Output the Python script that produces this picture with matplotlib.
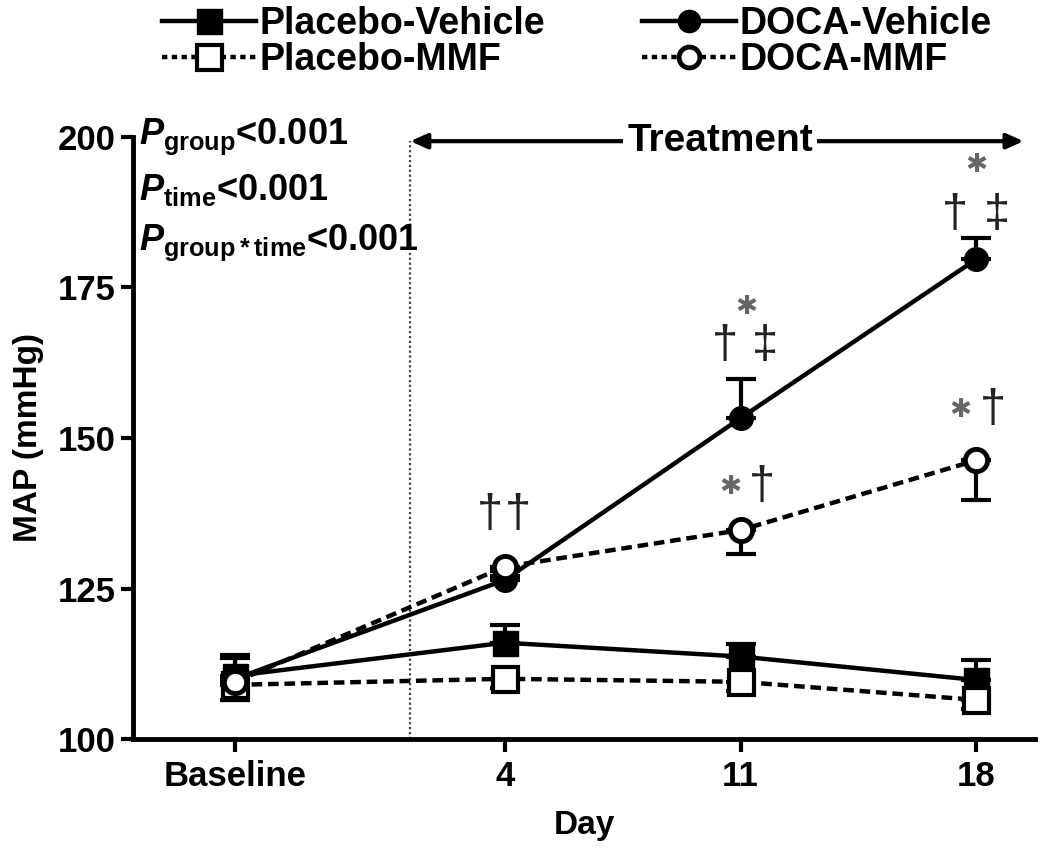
import matplotlib.pyplot as plt
from matplotlib.lines import Line2D

plt.rcParams['font.family'] = ['Liberation Sans', 'DejaVu Sans']
plt.rcParams['font.weight'] = 'bold'
plt.rcParams['mathtext.fontset'] = 'custom'
plt.rcParams['mathtext.it'] = 'Liberation Sans:italic:bold'
plt.rcParams['mathtext.rm'] = 'Liberation Sans:bold'
plt.rcParams['mathtext.bf'] = 'Liberation Sans:bold'

# data (MAP, mmHg; mean and SEM)
days = [-4, 4, 11, 18]
day_labels = ['Baseline', '4', '11', '18']

placebo_veh = [110.5, 116.0, 113.7, 109.8]
placebo_veh_sem = [3.5, 2.9, 2.0, 3.3]
placebo_mmf = [109.0, 110.0, 109.5, 106.5]
placebo_mmf_sem = [2.5, 1.5, 1.5, 1.5]
doca_veh = [110.0, 126.4, 153.3, 179.7]
doca_veh_sem = [3.5, 1.5, 6.5, 3.5]
doca_mmf = [109.5, 128.6, 134.7, 146.3]
doca_mmf_sem = [3.0, 1.5, 4.0, 6.6]

treatment_start = 1.2
treatment_end = 19.4

p_texts = [r'$P_{\mathrm{group}}$<0.001',
           r'$P_{\mathrm{time}}$<0.001',
           r'$P_{\mathrm{group*time}}$<0.001']

# significance marks: (day, MAP, symbol)
sig_marks = [
    (3.55, 137.2, '†'), (4.4, 137.2, '†'),
    (10.55, 165.3, '†'), (11.73, 165.3, '‡'), (11.16, 171.8, '*'),
    (17.37, 187.0, '†'), (18.6, 187.0, '‡'), (18.0, 195.3, '*'),
    (10.69, 141.9, '*'), (11.64, 141.9, '†'),
    (17.52, 154.6, '*'), (18.5, 154.6, '†'),
]

fig = plt.figure(figsize=(10.5, 8.68), dpi=100)
ax = fig.add_axes([0.1267, 0.1486, 0.859, 0.6936])

lw = 3.2
dash = (2.4, 1.3)
zeros = [0, 0, 0, 0]

# vehicle groups: upper error bars, drawn first
ax.errorbar(days, placebo_veh, yerr=[zeros, placebo_veh_sem], fmt='none',
            ecolor='black', elinewidth=3, capsize=11, capthick=3, zorder=2)
ax.plot(days, placebo_veh, color='black', lw=lw, marker='s', ms=18,
        mfc='black', mec='black', zorder=3)
ax.errorbar(days, doca_veh, yerr=[zeros, doca_veh_sem], fmt='none',
            ecolor='black', elinewidth=3, capsize=11, capthick=3, zorder=2)
ax.plot(days, doca_veh, color='black', lw=lw, marker='o', ms=17,
        mfc='black', mec='black', zorder=3)

# MMF groups: lower error bars, open markers on top
ax.errorbar(days, placebo_mmf, yerr=[placebo_mmf_sem, zeros], fmt='none',
            ecolor='black', elinewidth=3, capsize=11, capthick=3, zorder=4)
ax.plot(days, placebo_mmf, color='black', lw=lw, ls=(0, dash), marker='s',
        ms=18, mfc='white', mec='black', mew=3, zorder=5)
ax.errorbar(days, doca_mmf, yerr=[doca_mmf_sem, zeros], fmt='none',
            ecolor='black', elinewidth=3, capsize=11, capthick=3, zorder=4)
ax.plot(days, doca_mmf, color='black', lw=lw, ls=(0, dash), marker='o',
        ms=16, mfc='white', mec='black', mew=3.5, zorder=5)

# treatment period
ax.plot([treatment_start, treatment_start], [100, 199.3], color='#444444',
        lw=1.6, ls=(0, (1, 1.2)), zorder=1)
ax.annotate('', xy=(treatment_end, 199.3), xytext=(treatment_start, 199.3),
            arrowprops=dict(arrowstyle='<|-|>,head_length=1.0,head_width=0.45',
                            color='black', lw=3, shrinkA=0, shrinkB=0),
            annotation_clip=False)
ax.text((treatment_start + treatment_end) / 2 + 0.1, 199.3, 'Treatment',
        ha='center', va='center', fontsize=28, fontweight='bold',
        bbox=dict(facecolor='white', edgecolor='none', pad=3), zorder=6)

for i, t in enumerate(p_texts):
    ax.text(-6.85, 200 - i * 8.8, t, ha='left', va='center', fontsize=26,
            fontweight='bold', zorder=6)

for d, v, s in sig_marks:
    if s == '*':
        ax.text(d, v, '✱', ha='center', va='center', fontsize=19,
                color='#666666', family=['DejaVu Sans'])
    else:
        ax.text(d, v, s, ha='center', va='center', fontsize=34,
                color='#222222', fontweight='normal')

ax.set_xlim(-7.03, 19.74)
ax.set_ylim(100, 200)
ax.set_xticks(days)
ax.set_xticklabels(day_labels)
ax.set_yticks([100, 125, 150, 175, 200])
ax.tick_params(axis='both', labelsize=25, width=3, length=9)
ax.tick_params(axis='x', pad=6)
for side in ['top', 'right']:
    ax.spines[side].set_visible(False)
for side in ['left', 'bottom']:
    ax.spines[side].set_linewidth(3.5)
ax.set_xlabel('Day', fontsize=24, fontweight='bold', labelpad=12)
ax.set_ylabel('MAP (mmHg)', fontsize=24, fontweight='bold', labelpad=10)

handles = [
    Line2D([], [], color='black', lw=lw, marker='s', ms=18, mfc='black'),
    Line2D([], [], color='black', lw=lw, ls=(0, (1.2, 1.0)), marker='s', ms=18,
           mfc='white', mew=3),
    Line2D([], [], color='black', lw=lw, marker='o', ms=16, mfc='black'),
    Line2D([], [], color='black', lw=lw, ls=(0, (1.2, 1.0)), marker='o', ms=15,
           mfc='white', mew=3.5),
]
labels = ['Placebo-Vehicle', 'Placebo-MMF', 'DOCA-Vehicle', 'DOCA-MMF']
fig.legend(handles, labels, ncol=2, loc='upper left',
           bbox_to_anchor=(0.122, 1.032), frameon=False, fontsize=27,
           handlelength=2.5, handletextpad=0.1, columnspacing=2.6,
           labelspacing=0.0)

fig.savefig('out.png', dpi=100)
